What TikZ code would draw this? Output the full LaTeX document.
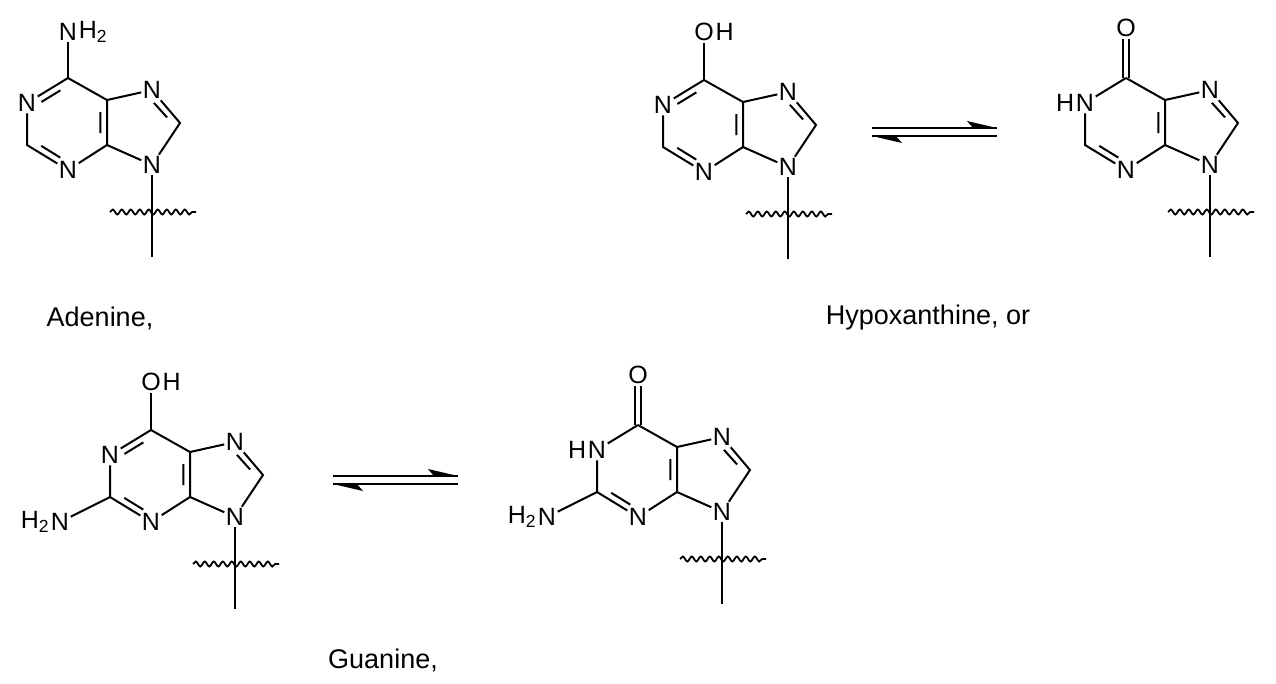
\documentclass[tikz,border=0pt]{standalone}
\usepackage{fontspec}
\setmainfont{Liberation Sans}
\usetikzlibrary{calc,decorations.pathmorphing}
\tikzset{
  atom/.style={inner sep=1.5pt,font=\fontsize{25}{25}\selectfont},
  hatom/.style={inner sep=0pt,font=\fontsize{25}{25}\selectfont},
  bond/.style={line width=2pt},
  wavy/.style={line width=1.8pt,decorate,decoration={snake,amplitude=2.5pt,segment length=9pt}},
  lbl/.style={font=\fontsize{27}{30}\selectfont},
  eqline/.style={line width=2pt}
}
\newcommand\purine[3]{%
\begin{scope}[shift={(#2,#3)}]
\coordinate (#1C6) at (68,78);
\node[atom] (#1N1) at (27,103) {N};
\coordinate (#1C2) at (27,145);
\node[atom] (#1N3) at (68,170) {N};
\coordinate (#1C4) at (107,145);
\coordinate (#1C5) at (107,100);
\node[atom] (#1N7) at (152,90) {N};
\coordinate (#1C8) at (180,123);
\node[atom] (#1N9) at (152,165) {N};
\coordinate (#1R6) at (67,123);
\coordinate (#1R5) at (137,125);
\coordinate (#1sub) at (152,257);
\coordinate (#1wl) at (110,212);
\coordinate (#1wr) at (196,212);
\end{scope}
\draw[bond] (#1C6)--(#1N1)--(#1C2)--(#1N3)--(#1C4)--(#1C5)--(#1C6);
\draw[bond] (#1C5)--(#1N7)--(#1C8)--(#1N9)--(#1C4);
\draw[bond] (#1N9)--(#1sub);
\draw[wavy] (#1wl)--(#1wr);}
\newcommand\dbl[3]{\draw[bond] ($($(#1)!.22!(#2)$)!7pt!(#3)$) -- ($($(#1)!.78!(#2)$)!7pt!(#3)$);}
\newcommand\eqarr[4]{%
\coordinate (#1a) at (#2,#4); \coordinate (#1b) at (#3,#4);
\coordinate (#1c) at (#2,#4+8); \coordinate (#1d) at (#3,#4+8);
\draw[eqline] (#1a)--(#1b); \draw[eqline] (#1c)--(#1d);
\fill (#1b) -- ++(-30,-7) -- ++(6,7) -- cycle;
\fill (#1c) -- ++(30,7) -- ++(-6,-7) -- cycle;}
\begin{document}
\begin{tikzpicture}[x=1pt,y=-1pt]
\useasboundingbox (0,0) rectangle (1276,683);
% Adenine
\purine{a}{0}{0}
\dbl{aC6}{aN1}{aR6}\dbl{aC2}{aN3}{aR6}\dbl{aC4}{aC5}{aR6}\dbl{aN7}{aC8}{aR5}
\node[atom] (aNH) at ($(aC6)+(0,-46)$) {N};
\node[hatom,anchor=west] (aH2) at (aNH.east) {H\textsubscript{2}};
\draw[bond] (aC6)--(aNH);
\node[lbl] (alab) at (100,318) {Adenine,};
% Hypoxanthine enol
\purine{h}{636}{2}
\dbl{hC6}{hN1}{hR6}\dbl{hC2}{hN3}{hR6}\dbl{hC4}{hC5}{hR6}\dbl{hN7}{hC8}{hR5}
\node[atom] (hO) at ($(hC6)+(0,-48)$) {O};
\node[hatom,anchor=west] (hH) at (hO.east) {H};
\draw[bond] (hC6)--(hO);
\eqarr{e1}{872}{997}{128}
% Hypoxanthine keto
\purine{k}{1058}{0}
\dbl{kC2}{kN3}{kR6}\dbl{kC4}{kC5}{kR6}\dbl{kN7}{kC8}{kR5}
\node[atom] (kO) at ($(kC6)+(0,-50)$) {O};
\draw[bond] ([xshift=-3pt]kC6)--([xshift=-3pt]kO.south);
\draw[bond] ([xshift=3pt]kC6)--([xshift=3pt]kO.south);
\node[hatom,anchor=east] (kH) at (kN1.west) {H};
\node[lbl] (hlab) at (928,318) {Hypoxanthine, or};
% Guanine enol
\purine{g}{83}{352}
\dbl{gC6}{gN1}{gR6}\dbl{gC2}{gN3}{gR6}\dbl{gC4}{gC5}{gR6}\dbl{gN7}{gC8}{gR5}
\node[atom] (gO) at ($(gC6)+(0,-48)$) {O};
\node[hatom,anchor=west] (gH) at (gO.east) {H};
\draw[bond] (gC6)--(gO);
\node[atom] (gNa) at ($(gC2)+(-50,25)$) {N};
\node[hatom,anchor=east] (gH2) at (gNa.west) {H\textsubscript{2}};
\draw[bond] (gC2)--(gNa);
\eqarr{e2}{333}{458}{476}
% Guanine keto
\purine{q}{570}{347}
\dbl{qC2}{qN3}{qR6}\dbl{qC4}{qC5}{qR6}\dbl{qN7}{qC8}{qR5}
\node[atom] (qO) at ($(qC6)+(0,-50)$) {O};
\draw[bond] ([xshift=-3pt]qC6)--([xshift=-3pt]qO.south);
\draw[bond] ([xshift=3pt]qC6)--([xshift=3pt]qO.south);
\node[hatom,anchor=east] (qH) at (qN1.west) {H};
\node[atom] (qNa) at ($(qC2)+(-50,25)$) {N};
\node[hatom,anchor=east] (qH2) at (qNa.west) {H\textsubscript{2}};
\draw[bond] (qC2)--(qNa);
\node[lbl] (glab) at (383,660) {Guanine,};
\end{tikzpicture}
\end{document}
